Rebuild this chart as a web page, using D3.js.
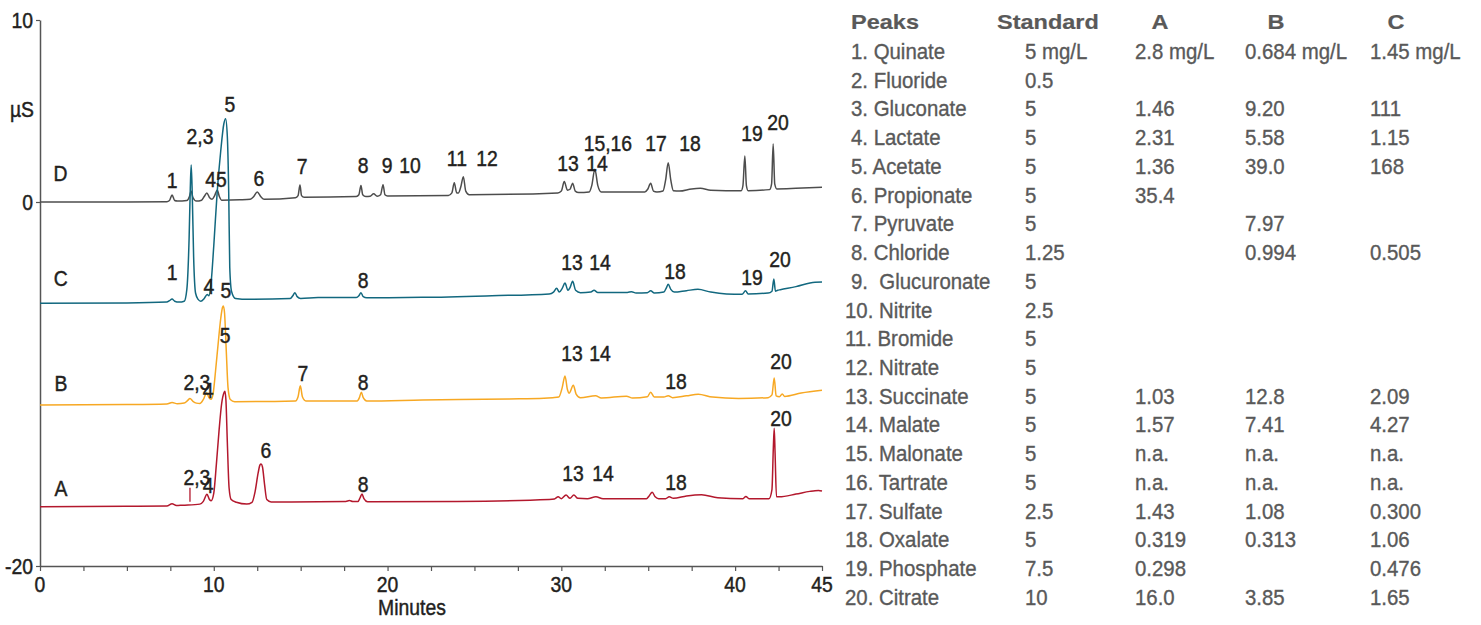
<!DOCTYPE html>
<html>
<head>
<meta charset="utf-8">
<script src="https://cdn.jsdelivr.net/npm/d3@7"></script>
<style>
  html, body { margin: 0; padding: 0; background: #fff; }
  svg { display: block; }
  text { font-family: "Liberation Sans", Arial, sans-serif; }
</style>
</head>
<body>
<svg id="chart" width="1481" height="625"></svg>
<script>
// ---------- data (time in minutes, signal in µS, traces offset as displayed) ----------
const traceD = [
  [0,0],[5,0.0],[7.3,0.02],[7.45,0.08],[7.6,0.38],[7.75,0.08],[7.9,0.05],
  [8.45,0.08],[8.6,0.3],[8.69,0.6],[8.8,0.25],[9.0,0.05],
  [9.3,0.1],[9.45,0.3],[9.6,0.5],[9.75,0.25],[9.9,0.15],
  [10.05,0.35],[10.2,0.66],[10.32,0.3],[10.45,0.1],
  [11.5,0.12],[12.1,0.15],[12.3,0.3],[12.5,0.55],[12.7,0.3],[12.9,0.15],
  [14.7,0.24],[14.85,0.35],[14.96,0.93],[15.05,0.35],[15.2,0.26],
  [18.2,0.3],[18.35,0.4],[18.47,0.9],[18.57,0.4],[18.75,0.3],
  [19.0,0.32],[19.2,0.45],[19.4,0.32],[19.6,0.4],[19.74,0.95],[19.85,0.4],[20.0,0.33],
  [23.5,0.36],[23.7,0.5],[23.84,1.06],[23.98,0.5],[24.08,0.5],[24.22,0.85],[24.36,1.39],[24.5,0.6],[24.7,0.4],
  [29.8,0.5],[30.0,0.6],[30.17,1.12],[30.35,0.65],[30.5,0.7],[30.65,1.03],[30.8,0.6],[31.0,0.52],
  [31.6,0.55],[31.75,0.9],[31.93,1.8],[32.1,0.9],[32.3,0.55],
  [34.8,0.55],[34.97,0.7],[35.14,1.03],[35.3,0.6],[35.5,0.55],
  [35.85,0.6],[36.0,1.2],[36.15,2.16],[36.3,1.2],[36.45,0.62],[36.8,0.6],
  [37.5,0.72],[38.0,0.75],[38.6,0.65],[40.35,0.62],[40.45,0.9],[40.56,2.53],[40.65,0.9],[40.75,0.62],
  [41.98,0.68],[42.1,1.0],[42.19,3.19],[42.28,1.0],[42.4,0.72],[43.5,0.75],[45,0.81]
];
const traceC = [
  [0,-5.57],[5,-5.55],[7.3,-5.5],[7.45,-5.42],[7.6,-5.33],[7.75,-5.45],[8.0,-5.5],[8.3,-5.45],
  [8.45,-4.8],[8.58,-2.0],[8.65,0.8],[8.7,2.03],[8.76,0.5],[8.84,-3.0],[8.95,-5.0],[9.1,-5.35],[9.25,-5.45],
  [9.45,-5.3],[9.62,-5.08],[9.72,-5.15],[9.85,-4.4],[10.0,-2.4],[10.2,0.6],[10.4,2.8],[10.58,4.3],[10.68,4.58],
  [10.78,3.6],[10.86,0.5],[10.92,-3.6],[11.02,-4.9],[11.25,-5.3],
  [12,-5.35],[14.4,-5.3],[14.55,-5.15],[14.67,-4.98],[14.8,-5.2],[15,-5.3],[16,-5.25],
  [18.2,-5.25],[18.35,-5.15],[18.47,-4.98],[18.6,-5.2],[18.8,-5.26],
  [22,-5.24],[26,-5.15],[29.3,-5.05],[29.55,-4.95],[29.73,-4.74],[29.88,-4.95],[30.05,-4.75],[30.21,-4.45],
  [30.38,-4.85],[30.5,-4.7],[30.65,-4.36],[30.82,-4.85],[31.1,-4.98],
  [31.7,-4.95],[31.88,-4.85],[32.1,-4.97],[33.8,-4.97],[34.04,-4.93],[34.3,-5.0],[34.95,-4.98],[35.14,-4.88],[35.35,-5.0],
  [35.9,-4.95],[36.05,-4.7],[36.15,-4.52],[36.3,-4.8],[36.5,-4.95],[37.2,-4.87],[37.86,-4.8],[38.6,-4.95],
  [39.5,-5.05],[40.4,-5.07],[40.6,-4.88],[40.75,-5.05],[41.9,-5.0],[42.12,-4.9],[42.23,-4.23],[42.32,-4.9],
  [42.45,-4.85],[42.6,-4.82],[43.5,-4.65],[44.6,-4.41],[45,-4.4]
];
const traceB = [
  [0,-11.15],[5,-11.13],[7.3,-11.1],[7.6,-11.02],[7.9,-11.08],[8.3,-11.05],[8.5,-10.9],[8.63,-10.8],[8.8,-10.95],
  [9.0,-11.05],[9.2,-11.07],[9.4,-10.85],[9.59,-10.48],[9.72,-10.75],[9.84,-10.84],[9.95,-10.6],[10.1,-9.3],
  [10.25,-7.8],[10.4,-6.4],[10.5,-5.8],[10.55,-5.71],[10.62,-6.1],[10.72,-8.2],[10.82,-10.2],[10.95,-10.85],[11.2,-10.97],
  [14.7,-10.93],[14.85,-10.7],[14.98,-10.1],[15.1,-10.7],[15.3,-10.93],[18.25,-10.93],[18.38,-10.75],[18.49,-10.45],
  [18.6,-10.75],[18.8,-10.93],
  [22,-10.88],[27,-10.82],[29,-10.78],[29.5,-10.75],[29.85,-10.72],[30.05,-10.2],[30.21,-9.56],[30.35,-10.3],
  [30.45,-10.5],[30.69,-10.07],[30.85,-10.55],[31.1,-10.75],
  [31.97,-10.65],[32.3,-10.77],[33.75,-10.67],[34.1,-10.77],[34.95,-10.7],[35.14,-10.45],[35.35,-10.72],
  [35.9,-10.72],[36.15,-10.64],[36.4,-10.75],[37.2,-10.65],[37.88,-10.56],[38.7,-10.72],[40.2,-10.79],
  [41.9,-10.75],[42.12,-10.6],[42.25,-9.67],[42.36,-10.65],[42.55,-10.7],[42.71,-10.55],[42.85,-10.68],
  [43.8,-10.5],[45,-10.35]
];
const traceA = [
  [0,-16.74],[5,-16.72],[7.3,-16.7],[7.6,-16.58],[7.85,-16.68],[8.2,-16.66],[9.2,-16.6],[9.4,-16.45],[9.61,-16.06],
  [9.75,-16.35],[9.85,-16.42],
  [10.0,-16.0],[10.15,-14.4],[10.3,-12.6],[10.45,-11.1],[10.58,-10.5],[10.64,-10.4],[10.7,-10.9],[10.78,-13.2],
  [10.88,-15.7],[11.0,-16.35],[11.3,-16.5],[11.9,-16.6],
  [12.2,-16.5],[12.38,-15.9],[12.55,-14.9],[12.66,-14.45],[12.72,-14.4],[12.8,-14.55],[12.92,-15.5],[13.05,-16.35],[13.3,-16.48],
  [17.6,-16.45],[17.8,-16.4],[18.0,-16.45],[18.3,-16.45],[18.42,-16.25],[18.53,-16.04],[18.64,-16.3],[18.85,-16.47],
  [24,-16.45],[29.3,-16.35],[29.6,-16.32],[29.82,-16.2],[30.0,-16.3],[30.27,-16.1],[30.5,-16.28],[30.72,-16.1],
  [30.95,-16.28],[31.5,-16.3],[31.99,-16.2],[32.4,-16.3],
  [34.9,-16.3],[35.05,-16.15],[35.23,-15.95],[35.4,-16.2],[35.6,-16.3],[36.0,-16.3],[36.21,-16.2],[36.45,-16.28],
  [37.2,-16.15],[38.07,-16.08],[39,-16.25],[40.45,-16.3],[40.62,-16.18],[40.8,-16.3],[41.95,-16.3],[42.12,-15.8],
  [42.2,-13.5],[42.25,-12.43],[42.3,-13.8],[42.38,-16.2],[42.55,-16.2],[43.5,-16.05],[44.3,-15.9],[44.6,-15.86],
  [44.8,-15.85],[45,-15.88]
];

const traceNames = ["D", "C", "B", "A"];
const traceNamePos = [[1.18,1.59],[1.2,-4.18],[1.2,-9.95],[1.2,-15.71]];

const labelsD = [["1",7.6,1.21],["45",10.13,1.26],["6",12.6,1.32],["7",15.08,1.98],["8",18.59,2.03],["9",19.97,2.03],
  ["10",21.29,2.03],["11",23.99,2.42],["12",25.72,2.42],["13",30.38,2.14],["14",32.05,2.14],["15,16",32.68,3.24],
  ["17",35.45,3.24],["18",37.4,3.24],["19",40.97,3.79],["20",42.47,4.4]];
const labelsC = [["2,3",9.21,3.63],["5",10.93,5.38],["1",7.6,-3.85],["4",9.72,-4.62],["5",10.7,-4.84],["8",18.59,-4.29],
  ["13",30.61,-3.3],["14",32.22,-3.3],["18",36.54,-3.79],["19",40.97,-4.12],["20",42.58,-3.13]];
const labelsB = [["5",10.65,-7.31],["2,3",9.03,-9.89],["4",9.67,-10.33],["7",15.13,-9.4],["8",18.59,-9.89],
  ["13",30.61,-8.3],["14",32.22,-8.3],["18",36.6,-9.84],["20",42.64,-8.74]];
const labelsA = [["6",13.0,-13.63],["2,3",9.03,-15.11],["4",9.67,-15.55],["8",18.59,-15.49],["13",30.67,-14.89],
  ["14",32.4,-14.89],["18",36.6,-15.38],["20",42.64,-11.87]];
const markA = [[8.63,-16.47,-15.7]];

const xTicks = [0,2.5,5,7.5,10,12.5,15,17.5,20,22.5,25,27.5,30,32.5,35,37.5,40,42.5,45];
const xTickLabels = {0:"0",10:"10",20:"20",30:"30",40:"40",45:"45"};
const yTicks = [10, 0, -20];
const xTitle = "Minutes";
const yTitle = "µS";

// table
const tableHeader = ["Peaks", "Standard", "A", "B", "C"];
const peakNames = ["1. Quinate","2. Fluoride","3. Gluconate","4. Lactate","5. Acetate","6. Propionate","7. Pyruvate",
  "8. Chloride","9.  Glucuronate","10. Nitrite","11. Bromide","12. Nitrate","13. Succinate","14. Malate",
  "15. Malonate","16. Tartrate","17. Sulfate","18. Oxalate","19. Phosphate","20. Citrate"];
const standard = ["5 mg/L","0.5","5","5","5","5","5","1.25","5","2.5","5","5","5","5","5","5","2.5","5","7.5","10"];
const sampleA = ["2.8 mg/L","","1.46","2.31","1.36","35.4","","","","","","","1.03","1.57","n.a.","n.a.","1.43","0.319","0.298","16.0"];
const sampleB = ["0.684 mg/L","","9.20","5.58","39.0","","7.97","0.994","","","","","12.8","7.41","n.a.","n.a.","1.08","0.313","","3.85"];
const sampleC = ["1.45 mg/L","","111","1.15","168","","","0.505","","","","","2.09","4.27","n.a.","n.a.","0.300","1.06","0.476","1.65"];

// ---------- drawing ----------
const svg = d3.select("#chart");
svg.append("rect").attr("width",1481).attr("height",625).attr("fill","#fff");

const x = d3.scaleLinear().domain([0,45]).range([40,822]);
const y = d3.scaleLinear().domain([-20,10]).range([566,20]);

const axisColor = "#555";
const labelColor = "#231f20";
const LBL_SIZE = 22, LBL_SX = 0.88;

// condensed text helper: text drawn in a horizontally scaled group
function ctext(parent, px, py, str, o) {
  o = o || {};
  const g = parent.append("g").attr("transform", `translate(${px},${py}) scale(${o.sx || LBL_SX},1)`);
  const fill = o.fill || labelColor;
  const t = g.append("text").attr("x",0).attr("y",0).attr("dy","0.36em")
    .attr("text-anchor", o.anchor || "middle")
    .attr("fill", fill)
    .attr("stroke", fill).attr("stroke-width", o.sw === undefined ? 0.45 : o.sw)
    .style("font-size", (o.size || LBL_SIZE) + "px")
    .style("white-space","pre")
    .text(str);
  if (o.bold) t.style("font-weight","bold");
  return t;
}

// axes
const gx = svg.append("g").attr("transform",`translate(0,${y(-20)})`)
  .call(d3.axisBottom(x).tickValues(xTicks).tickSize(5).tickSizeOuter(0).tickFormat(() => ""));
gx.select(".domain").attr("stroke",axisColor).attr("stroke-width",1.5);
gx.selectAll(".tick line").attr("stroke",axisColor).attr("stroke-width",1.2);
const gxl = svg.append("g");
xTicks.filter(t => xTickLabels[t] !== undefined).forEach(t => ctext(gxl, x(t), 584, xTickLabels[t]));

const gy = svg.append("g").attr("transform",`translate(${x(0)},0)`)
  .call(d3.axisLeft(y).tickValues(yTicks).tickSize(4).tickSizeOuter(0).tickFormat(() => ""));
gy.select(".domain").attr("stroke",axisColor).attr("stroke-width",1.5);
gy.selectAll(".tick line").attr("stroke",axisColor).attr("stroke-width",1.2);
const gyl = svg.append("g");
yTicks.forEach(t => ctext(gyl, 33, y(t), String(t), {anchor:"end"}));

ctext(svg, 22, y(5.1), yTitle);
ctext(svg, 412, 607, xTitle);

// traces
const line = d3.line().x(d => x(d[0])).y(d => y(d[1])).curve(d3.curveMonotoneX);
const traces = [
  {data: traceD, color: "#4d4d4d"},
  {data: traceC, color: "#12687f"},
  {data: traceB, color: "#f7a823"},
  {data: traceA, color: "#b3182d"}
];
svg.append("g").selectAll("path").data(traces).join("path")
  .attr("d", d => line(d.data)).attr("fill","none").attr("stroke", d => d.color)
  .attr("stroke-width",1.5).attr("stroke-linejoin","round");

svg.append("g").selectAll("line").data(markA).join("line")
  .attr("x1", d => x(d[0])).attr("x2", d => x(d[0])).attr("y1", d => y(d[1])).attr("y2", d => y(d[2]))
  .attr("stroke","#b3182d").attr("stroke-width",1.3);

// trace names
const gn = svg.append("g");
traceNames.forEach((n,i) => ctext(gn, x(traceNamePos[i][0]), y(traceNamePos[i][1]), n));

// peak labels
const gl = svg.append("g");
[].concat(labelsD, labelsC, labelsB, labelsA).forEach(d => ctext(gl, x(d[1]), y(d[2]), d[0]));

// table
const tableColor = "#595959";
const rowY = i => 51 + i * 28.72;
const tg = svg.append("g");
const headX = [851, 997, 1160, 1276, 1396];
const headAnchor = ["start","start","middle","middle","middle"];
tableHeader.forEach((h,i) => ctext(tg, headX[i], 21.7, h,
  {anchor: headAnchor[i], bold: true, size: 21, sx: 1.12, fill: tableColor, sw: 0.2}));

const cols = [
  {vals: peakNames, x: (i) => i >= 9 ? 845 : 851},
  {vals: standard, x: () => 1025},
  {vals: sampleA, x: () => 1135},
  {vals: sampleB, x: () => 1245},
  {vals: sampleC, x: () => 1370}
];
cols.forEach(col => {
  col.vals.forEach((v,i) => {
    if (v !== "") ctext(tg, col.x(i), rowY(i), v, {anchor:"start", size: 22.3, sx: 0.915, fill: tableColor, sw: 0.35});
  });
});
</script>
</body>
</html>
